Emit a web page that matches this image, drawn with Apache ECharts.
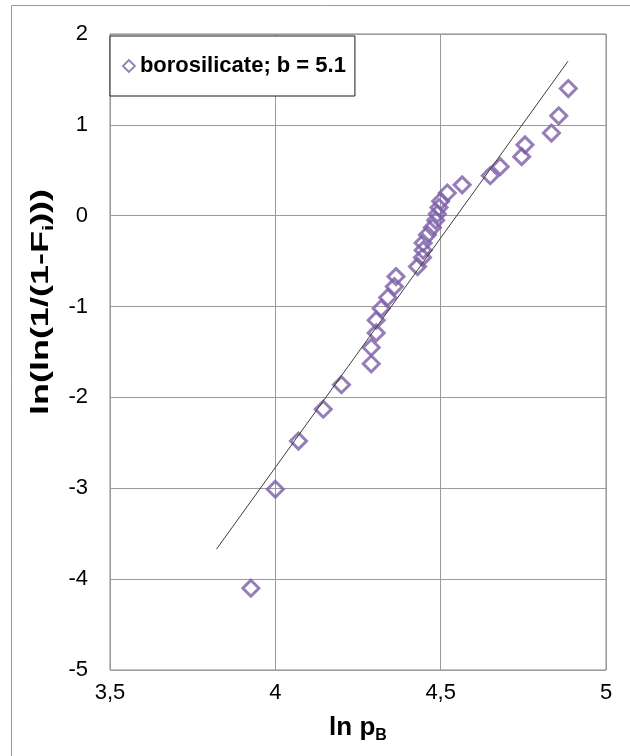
<!DOCTYPE html>
<html>
<head>
<meta charset="utf-8">
<title>Weibull plot</title>
<script src="https://cdn.jsdelivr.net/npm/echarts@6/dist/echarts.min.js"></script>
<style>
html,body{margin:0;padding:0;background:#fff;}
#main{width:630px;height:756px;}
</style>
</head>
<body>
<div id="main"></div>
<script>
// measured points (ln p_B , ln(ln(1/(1-F_i))))
var lnP = [3.926, 4.00, 4.07, 4.145, 4.20, 4.29, 4.29, 4.305, 4.305, 4.32, 4.34, 4.36, 4.365, 4.43, 4.445, 4.447,
	4.447, 4.46, 4.475, 4.485, 4.49, 4.495, 4.50, 4.52, 4.565, 4.65, 4.68, 4.745, 4.755, 4.835, 4.857, 4.886];
var lnLn = [-4.10, -3.01, -2.48, -2.13, -1.86, -1.63, -1.45, -1.29, -1.15, -1.02, -0.90, -0.78, -0.67, -0.56, -0.46, -0.38,
	-0.30, -0.21, -0.13, -0.05, 0.02, 0.09, 0.16, 0.25, 0.34, 0.44, 0.54, 0.65, 0.78, 0.91, 1.10, 1.40];
// trendline end points
var fitX = [3.822, 4.885];
var fitY = [-3.67, 1.70];
var seriesName = 'borosilicate; b = 5.1';
var xTickLabels = ['3,5', '4', '4,5', '5'];
var yTickLabels = ['-5', '-4', '-3', '-2', '-1', '0', '1', '2'];
var xMin = 3.5, xMax = 5, xStep = 0.5;
var yMin = -5, yMax = 2, yStep = 1;

var purple = '#7a5ea6';
var font = '"Liberation Sans", Arial, sans-serif';

var pts = [];
for (var i = 0; i < lnP.length; i++) {
	pts.push([lnP[i], lnLn[i]]);
}
var fit = [];
for (var j = 0; j < fitX.length; j++) {
	fit.push([fitX[j], fitY[j]]);
}

var chart = echarts.init(document.getElementById('main'));
var option = {
	animation: false,
	backgroundColor: '#fff',
	textStyle: {fontFamily: font},
	grid: {
		left: 110,
		right: 24,
		top: 34,
		bottom: 86,
		show: true,
		borderColor: '#8a8a8a',
		borderWidth: 1
	},
	legend: {
		data: [seriesName],
		left: 110,
		top: 36,
		orient: 'horizontal',
		padding: [19, 9, 19, 12],
		itemWidth: 12,
		itemHeight: 12,
		borderColor: '#1a1a1a',
		borderWidth: 1,
		backgroundColor: '#fff',
		textStyle: {fontFamily: font, fontSize: 22, fontWeight: 'bold', color: '#000'},
		itemStyle: {borderWidth: 1.8}
	},
	xAxis: {
		type: 'value',
		min: xMin,
		max: xMax,
		interval: xStep,
		axisLine: {show: false},
		axisTick: {show: false},
		splitLine: {show: true, lineStyle: {color: '#9a9a9a', width: 1}},
		axisLabel: {
			fontFamily: font, fontSize: 22, color: '#000', margin: 12,
			formatter: function (v) {
				return xTickLabels[Math.round((v - xMin) / xStep)];
			}
		},
		name: '{a|ln p}{s|B}',
		nameLocation: 'middle',
		nameGap: 42,
		nameTextStyle: {
			rich: {
				a: {fontFamily: font, fontSize: 26, fontWeight: 'bold', color: '#000', lineHeight: 32},
				s: {fontFamily: font, fontSize: 16, fontWeight: 'bold', color: '#000', lineHeight: 16, verticalAlign: 'bottom'}
			}
		}
	},
	yAxis: {
		type: 'value',
		min: yMin,
		max: yMax,
		interval: yStep,
		axisLine: {show: false},
		axisTick: {show: false},
		splitLine: {show: true, lineStyle: {color: '#9a9a9a', width: 1}},
		axisLabel: {
			fontFamily: font, fontSize: 22, color: '#000', margin: 22,
			formatter: function (v) {
				return yTickLabels[Math.round((v - yMin) / yStep)];
			}
		}
	},
	graphic: [{
		// outer chart frame (cut off at right/bottom)
		type: 'rect',
		silent: true,
		shape: {x: 11.5, y: 5.5, width: 800, height: 900},
		style: {fill: 'none', stroke: '#9a9a9a', lineWidth: 1}
	}, {
		// y axis title, rotated and stretched along its length like the source
		type: 'text',
		x: 41,
		y: 302,
		rotation: Math.PI / 2,
		scaleX: 1.5,
		silent: true,
		style: {
			text: '{a|ln(ln(1/(1-F}{s|i}{a|)))}',
			align: 'center',
			verticalAlign: 'middle',
			rich: {
				a: {fontFamily: font, fontSize: 24, fontWeight: 'bold', fill: '#000', lineHeight: 30},
				s: {fontFamily: font, fontSize: 15, fontWeight: 'bold', fill: '#000', lineHeight: 14, verticalAlign: 'bottom'}
			}
		}
	}],
	series: [{
		name: 'fit',
		type: 'line',
		data: fit,
		showSymbol: false,
		silent: true,
		lineStyle: {color: '#3c3c3c', width: 1},
		z: 3
	}, {
		name: seriesName,
		type: 'scatter',
		data: pts,
		symbol: 'diamond',
		symbolSize: 16,
		itemStyle: {color: 'rgba(255,255,255,0)', borderColor: purple, borderWidth: 3},
		z: 2
	}]
};
chart.setOption(option);
</script>
</body>
</html>
